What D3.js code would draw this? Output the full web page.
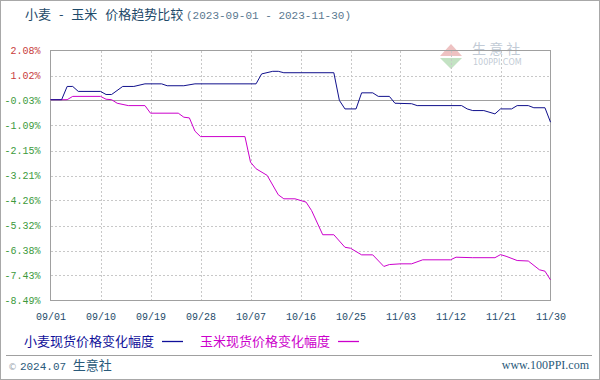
<!DOCTYPE html>
<html><head><meta charset="utf-8">
<script src="https://cdn.jsdelivr.net/npm/d3@7"></script>
<style>html,body{margin:0;padding:0;background:#fff;}svg{display:block;}</style>
</head><body>
<script>
const titleMain = "小麦 - 玉米 价格趋势比较";
const titleRange = "(2023-09-01 - 2023-11-30)";
const seriesNames = ["小麦现货价格变化幅度", "玉米现货价格变化幅度"];
const xTickLabels = ["09/01","09/10","09/19","09/28","10/07","10/16","10/25","11/03","11/12","11/21","11/30"];
const yTicks = [2.08, 1.02, -0.03, -1.09, -2.15, -3.21, -4.26, -5.32, -6.38, -7.43, -8.49];

const wheatDates = ["09-01","09-03","09-04","09-05","09-06","09-10","09-11","09-12","09-14","09-16","09-18","09-21","09-22","09-25","09-27","10-08","10-09","10-11","10-12","10-13","10-22","10-23","10-24","10-26","10-27","10-29","10-30","11-01","11-02","11-05","11-06","11-14","11-15","11-16","11-18","11-20","11-21","11-23","11-24","11-26","11-27","11-29","11-30"];
const wheatValues = [0,0,0.56,0.56,0.35,0.35,0.22,0.22,0.56,0.56,0.67,0.67,0.59,0.59,0.67,0.67,1.09,1.2,1.2,1.14,1.14,-0.03,-0.39,-0.39,0.29,0.29,0.14,0.14,-0.15,-0.17,-0.25,-0.25,-0.39,-0.46,-0.46,-0.6,-0.39,-0.39,-0.25,-0.25,-0.34,-0.34,-0.95];

const cornDates = ["09-01","09-04","09-05","09-10","09-11","09-12","09-13","09-15","09-18","09-19","09-24","09-25","09-26","09-27","09-28","10-06","10-07","10-08","10-10","10-12","10-13","10-15","10-17","10-18","10-20","10-22","10-24","10-25","10-27","10-29","10-31","11-01","11-03","11-05","11-07","11-12","11-13","11-16","11-20","11-21","11-22","11-24","11-26","11-28","11-29","11-30"];
const cornValues = [0,0,0.14,0.14,0.02,0,-0.15,-0.25,-0.25,-0.57,-0.57,-0.74,-0.77,-1.33,-1.56,-1.56,-2.64,-2.92,-3.2,-4.02,-4.19,-4.19,-4.33,-4.69,-5.71,-5.71,-6.24,-6.28,-6.56,-6.56,-7.05,-6.97,-6.94,-6.94,-6.77,-6.77,-6.66,-6.68,-6.68,-6.55,-6.62,-6.8,-6.82,-7.19,-7.25,-7.62];

(function(){
const W = 600, H = 380;
const pl = 50.5, pr = 550.5, pt = 50.5, pb = 300.5;
const parse = d3.timeParse("%Y-%m-%d");
const parseTick = s => parse("2023-" + s.replace("/", "-"));

const svg = d3.select("body").append("svg").attr("width", W).attr("height", H);
svg.append("rect").attr("x",0.5).attr("y",0.5).attr("width",W-1).attr("height",H-1)
  .attr("fill","#fff").attr("stroke","#a8a8a8");

const x = d3.scaleTime().domain([parseTick(xTickLabels[0]), parseTick(xTickLabels[xTickLabels.length-1])]).range([pl, pr]);
const y = d3.scaleLinear().domain([yTicks[yTicks.length-1], yTicks[0]]).range([pb, pt]);

// title
svg.append("text").attr("x", 25).attr("y", 19).text(titleMain)
  .attr("font-family","Noto Sans CJK SC").attr("font-size",13).attr("fill","#1e4a6a")
  .attr("word-spacing", 5).style("white-space","pre");
svg.append("text").attr("x", 186).attr("y", 19).text(titleRange)
  .attr("font-family","Liberation Mono").attr("font-size",11).attr("fill","#5a7890");

// watermark
const wm = svg.append("g").attr("opacity",0.6);
wm.append("path").attr("d","M451,44 L462,56 L440,56 Z").attr("fill","#e49a9a");
wm.append("path").attr("d","M440,58 L462,58 L451,69 Z").attr("fill","#9ccf9c");
wm.append("text").attr("x",472).attr("y",54).text("生 意 社").attr("font-family","Noto Sans CJK SC").attr("font-size",14).attr("fill","#9aaabb");
wm.append("text").attr("x",473).attr("y",65).text("100PPI.COM").attr("font-family","DejaVu Sans").attr("font-size",8).attr("fill","#9aaabb");

// grid
const grid = svg.append("g").attr("stroke","#c8c8c8").attr("stroke-dasharray","2,2").attr("shape-rendering","crispEdges");
yTicks.slice(1, -1).forEach(v => grid.append("line").attr("x1",pl).attr("x2",pr).attr("y1",Math.round(y(v))+0.5).attr("y2",Math.round(y(v))+0.5));
xTickLabels.slice(1, -1).forEach(s => grid.append("line").attr("y1",pt).attr("y2",pb).attr("x1",Math.round(x(parseTick(s)))+0.5).attr("x2",Math.round(x(parseTick(s)))+0.5));

// axes via d3
const yAxis = d3.axisLeft(y).tickValues(yTicks).tickSize(0).tickPadding(10).tickFormat(v => v.toFixed(2) + "%");
const ya = svg.append("g").attr("transform",`translate(${pl},0)`).call(yAxis);
ya.select(".domain").remove();
ya.selectAll("text").attr("font-family","Liberation Mono").attr("font-size",10)
  .attr("fill", v => v > 0 ? "#c83c3c" : "#3c9a3c");

const xAxis = d3.axisBottom(x).tickValues(xTickLabels.map(parseTick)).tickSize(0).tickPadding(12).tickFormat(d3.timeFormat("%m/%d"));
const xa = svg.append("g").attr("transform",`translate(0,${pb})`).call(xAxis);
xa.select(".domain").remove();
xa.selectAll("text").attr("font-family","Liberation Mono").attr("font-size",10).attr("fill","#1e4a6a");

// frame + zero line
svg.append("rect").attr("x",pl).attr("y",pt).attr("width",pr-pl).attr("height",pb-pt)
  .attr("fill","none").attr("stroke","#a0a0a0").attr("shape-rendering","crispEdges");
svg.append("line").attr("x1",pl).attr("x2",pr).attr("y1",Math.round(y(0))+0.5).attr("y2",Math.round(y(0))+0.5)
  .attr("stroke","#a0a0a0").attr("shape-rendering","crispEdges");

// lines
const line = d3.line().x(d => x(d[0])).y(d => y(d[1]));
const wheat = wheatDates.map((d,i) => [parse("2023-"+d), wheatValues[i]]);
const corn = cornDates.map((d,i) => [parse("2023-"+d), cornValues[i]]);
svg.append("path").datum(corn).attr("d", line).attr("fill","none").attr("stroke","#cc00cc").attr("stroke-width",1);
svg.append("path").datum(wheat).attr("d", line).attr("fill","none").attr("stroke","#10108c").attr("stroke-width",1);

// legend
const colors = ["#10109a", "#cc00cc"];
const legX = [24, 200];
seriesNames.forEach((n,i) => {
  const tx = svg.append("text").attr("x",legX[i]).attr("y",346).text(n)
    .attr("font-family","Noto Sans CJK SC").attr("font-size",13).attr("fill",colors[i]);
  const w = tx.node().getComputedTextLength();
  svg.append("line").attr("x1",legX[i]+w+8).attr("x2",legX[i]+w+29).attr("y1",341.5).attr("y2",341.5)
    .attr("stroke",colors[i]).attr("stroke-width",1.3);
});

// footer
svg.append("line").attr("x1",6).attr("x2",592).attr("y1",355.5).attr("y2",355.5).attr("stroke","#a0a0a0");
const f = svg.append("text").attr("x",8).attr("y",370);
f.append("tspan").text("© ").attr("font-family","DejaVu Sans").attr("font-size",9).attr("fill","#9aa6b0");
f.append("tspan").text("2024.07 ").attr("font-family","Liberation Mono").attr("font-size",11).attr("fill","#2a5a7a");
f.append("tspan").text("生意社").attr("font-family","Noto Sans CJK SC").attr("font-size",13).attr("fill","#2a5a7a");
svg.append("text").attr("x",589).attr("y",369).attr("text-anchor","end").text("www.100PPI.com")
  .attr("font-family","Liberation Serif").attr("font-size",12).attr("fill","#2a5a7a");
})();
</script>
</body></html>
